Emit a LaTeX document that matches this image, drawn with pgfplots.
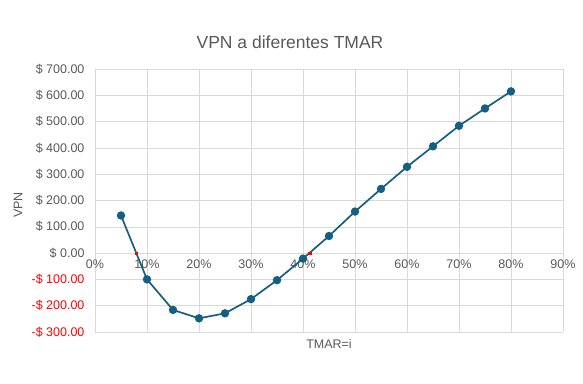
\documentclass[border=0pt]{standalone}
\usepackage{pgfplots}
\pgfplotsset{compat=1.18}
\usepackage{fontspec}
\setmainfont{Liberation Sans}
\definecolor{serie}{HTML}{156082}
\definecolor{txt}{HTML}{595959}
\definecolor{grd}{HTML}{D9D9D9}
\begin{document}
\begin{tikzpicture}[x=1pt,y=1pt]
\useasboundingbox (-95,-51) rectangle (488,332);
\begin{axis}[
  at={(0,0)}, anchor=south west,
  scale only axis, width=468pt, height=263pt,
  xmin=0, xmax=0.9, ymin=-300, ymax=700,
  axis x line=middle, axis y line=left,
  axis line style={-, draw=grd},
  hide obscured x ticks=false, hide obscured y ticks=false,
  major tick length=0pt,
  grid=major, grid style={grd, line width=0.6pt},
  xtick={0,0.1,0.2,0.3,0.4,0.5,0.6,0.7,0.8,0.9},
  xticklabels={0\%,10\%,20\%,30\%,40\%,50\%,60\%,70\%,80\%,90\%},
  ytick={-300,-200,-100,0,100,200,300,400,500,600,700},
  yticklabels={{\color{red}-\$ 300.00},{\color{red}-\$ 200.00},{\color{red}-\$ 100.00},\$ 0.00,\$ 100.00,\$ 200.00,\$ 300.00,\$ 400.00,\$ 500.00,\$ 600.00,\$ 700.00},
  tick label style={font=\fontsize{12.5}{14}\selectfont, text=txt},
  xticklabel style={anchor=north, yshift=-3pt},
  yticklabel style={anchor=east, xshift=-7pt},
  xlabel={TMAR=i},
  label style={font=\fontsize{12.5}{14}\selectfont, text=txt},
  xlabel style={at={(axis description cs:0.5,0)}, anchor=north, yshift=-4pt},
  clip=false,
]
\addplot[serie, line width=1.7pt, mark=*, mark size=3.3pt] coordinates {
(0.05,143) (0.10,-100) (0.15,-216) (0.20,-248) (0.25,-229) (0.30,-175)
(0.35,-103) (0.40,-21) (0.45,65) (0.50,158) (0.55,244) (0.60,328)
(0.65,406) (0.70,484) (0.75,550) (0.80,615)
};
\addplot[only marks, red, mark=square*, mark size=1.3pt] coordinates {(0.0795,0) (0.413,0)};
\end{axis}
\node[font=\fontsize{12.5}{14}\selectfont, text=txt, rotate=90] at (-77,127) {VPN};
\node[font=\fontsize{17.5}{20}\selectfont, text=txt] at (195,290) {VPN a diferentes TMAR};
\end{tikzpicture}
\end{document}
